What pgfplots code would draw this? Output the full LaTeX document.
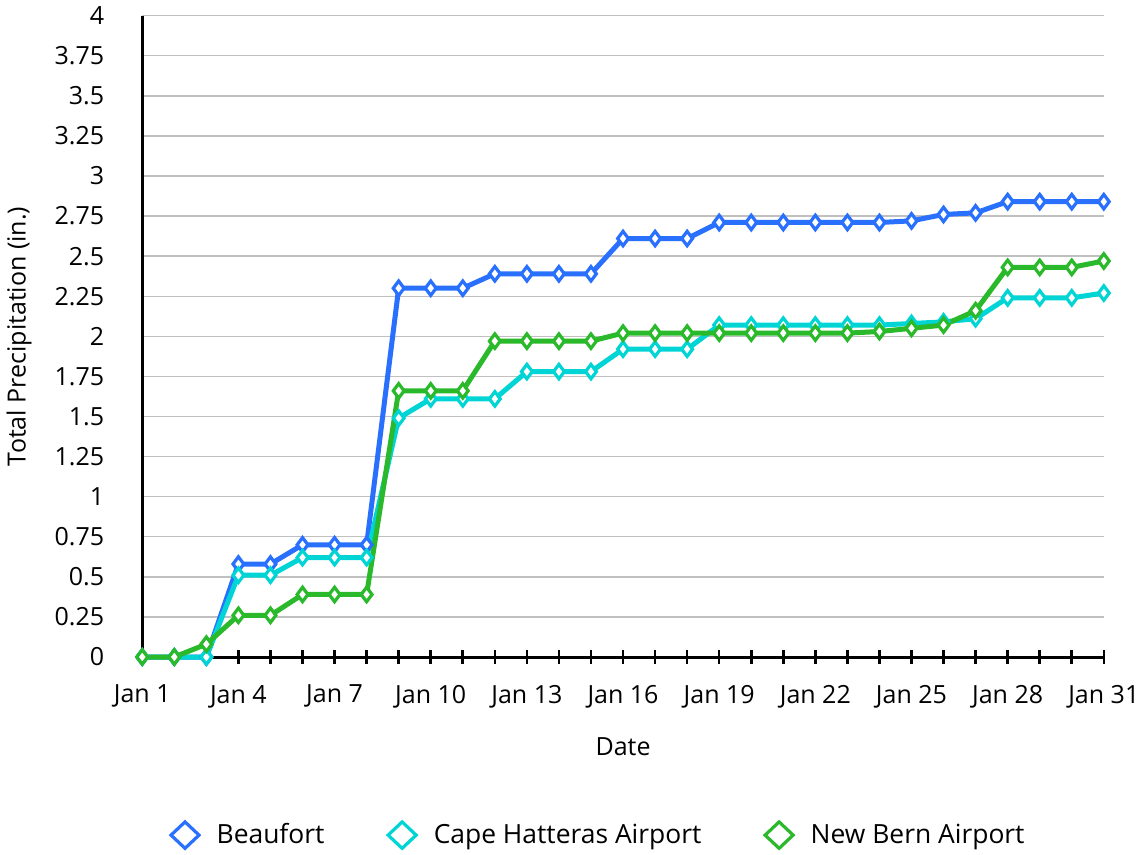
\documentclass[border=0pt]{standalone}
\usepackage{pgfplots}
\pgfplotsset{compat=1.18}
\usepackage{fontspec}
\setmainfont{Open Sans}
\definecolor{cB}{RGB}{41,112,255}
\definecolor{cC}{RGB}{0,212,212}
\definecolor{cN}{RGB}{42,185,42}
\definecolor{gridc}{RGB}{192,192,192}
\pgfplotsset{
  legdiam/.style={legend image code/.code={\draw[#1, fill=white, line width=1.6pt, line join=miter] (0.3cm,-6.6pt) -- (0.3cm+7pt,0pt) -- (0.3cm,6.6pt) -- (0.3cm-7pt,0pt) -- cycle;}}
}
\begin{document}
\begin{tikzpicture}
\begin{axis}[
  scale only axis,
  width=480.5pt, height=320.5pt,
  xmin=1, xmax=31, ymin=0, ymax=4,
  axis x line*=bottom, axis y line*=left,
  axis line style={black, line width=1.5pt},
  xtick={1,4,7,10,13,16,19,22,25,28,31},
  xticklabels={Jan 1,Jan 4,Jan 7,Jan 10,Jan 13,Jan 16,Jan 19,Jan 22,Jan 25,Jan 28,Jan 31},
  minor xtick={2,3,5,6,8,9,11,12,14,15,17,18,20,21,23,24,26,27,29,30},
  xtick style={black, line width=1.3pt},
  minor tick style={black, line width=1.3pt},
  tick align=center,
  major tick length=7pt, minor tick length=7pt,
  ytick={0,0.25,...,4},
  yticklabels={0,0.25,0.5,0.75,1,1.25,1.5,1.75,2,2.25,2.5,2.75,3,3.25,3.5,3.75,4},
  ytick style={draw=none},
  ymajorgrids, grid style={gridc, line width=0.7pt},
  tick label style={font=\fontsize{12.5}{14}\selectfont, black},
  xticklabel style={yshift=-7pt},
  yticklabel style={xshift=-12pt},
  xlabel={Date}, ylabel={Total Precipitation (in.)},
  label style={font=\fontsize{12.5}{14}\selectfont},
  xlabel style={at={(axis description cs:0.5,-0.140)}, anchor=center},
  ylabel style={at={(axis description cs:-0.128,0.5)}, anchor=center, rotate=0},
  clip=false,
  legend columns=3,
  legend style={at={(0.475,-0.2777)}, anchor=center, draw=none, font=\fontsize{13.2}{15}\selectfont,
    /tikz/every odd column/.append style={column sep=6pt},
    /tikz/every even column/.append style={column sep=29pt}},
  legend cell align=left,
  every axis plot/.append style={line width=2.5pt, mark=diamond*, mark size=3.6pt,
     mark options={fill=white, line width=1.6pt, solid}},
]
\addplot[color=cB, legdiam=cB] table {
x y
1 0
2 0
3 0
4 0.58
5 0.58
6 0.70
7 0.70
8 0.70
9 2.30
10 2.30
11 2.30
12 2.39
13 2.39
14 2.39
15 2.39
16 2.61
17 2.61
18 2.61
19 2.71
20 2.71
21 2.71
22 2.71
23 2.71
24 2.71
25 2.72
26 2.76
27 2.77
28 2.84
29 2.84
30 2.84
31 2.84
};
\addlegendentry{Beaufort}
\addplot[color=cC, legdiam=cC] table {
x y
1 0
2 0
3 0
4 0.51
5 0.51
6 0.62
7 0.62
8 0.62
9 1.49
10 1.61
11 1.61
12 1.61
13 1.78
14 1.78
15 1.78
16 1.92
17 1.92
18 1.92
19 2.07
20 2.07
21 2.07
22 2.07
23 2.07
24 2.07
25 2.08
26 2.09
27 2.11
28 2.24
29 2.24
30 2.24
31 2.27
};
\addlegendentry{Cape Hatteras Airport}
\addplot[color=cN, legdiam=cN] table {
x y
1 0
2 0
3 0.08
4 0.26
5 0.26
6 0.39
7 0.39
8 0.39
9 1.66
10 1.66
11 1.66
12 1.97
13 1.97
14 1.97
15 1.97
16 2.02
17 2.02
18 2.02
19 2.02
20 2.02
21 2.02
22 2.02
23 2.02
24 2.03
25 2.05
26 2.07
27 2.16
28 2.43
29 2.43
30 2.43
31 2.47
};
\addlegendentry{New Bern Airport}
\end{axis}
\end{tikzpicture}
\end{document}
